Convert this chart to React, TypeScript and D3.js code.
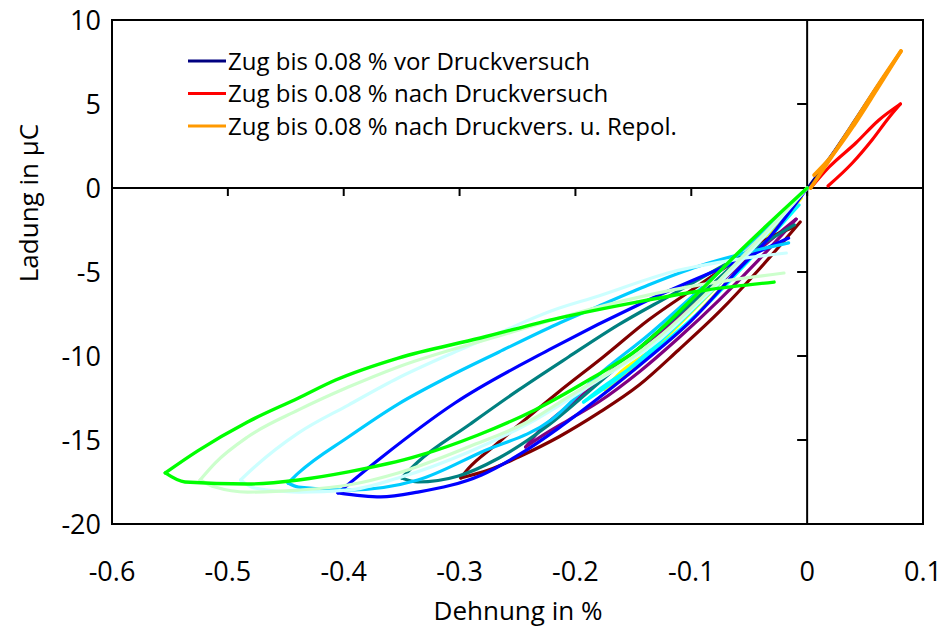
import React from 'react'
import * as d3 from 'd3'

// Dehnung (%) / Ladung (µC) pairs
const zugVor = [[0, 0], [0.02, 1.9], [0.04, 3.95], [0.06, 6.05], [0.081, 8.15], [0.06, 5.95], [0.04, 3.85], [0.02, 1.85], [0.004, 0.3]]
const zugNach = [[0.003, 0], [0.019, 1.25], [0.042, 2.68], [0.062, 4.05], [0.0805, 5.0], [0.071, 4.23], [0.056, 2.86], [0.039, 1.49], [0.018, 0.12]]
const zugRepol = [[0.003, 0], [0.02, 1.75], [0.04, 3.85], [0.06, 6.0], [0.081, 8.15], [0.06, 5.85], [0.04, 3.7], [0.02, 1.8], [0.006, 0.77]]

const druckGelb = [[0, 0], [-0.05, -3.8], [-0.1, -7.4], [-0.15, -10.7], [-0.175, -12.0], [-0.16, -10.9], [-0.143, -10.06], [-0.119, -9.05], [-0.076, -6.1], [-0.03, -2.6], [-0.005, -0.6]]
const druckCyan = [[0, 0], [-0.042, -3.27], [-0.093, -6.85], [-0.137, -9.76], [-0.171, -11.73], [-0.193, -12.74], [-0.18, -12.02], [-0.145, -10.36], [-0.093, -7.38], [-0.05, -4.29], [-0.007, -1.01]]
const druckLila = [[-0.0095, -1.85], [-0.042, -4.29], [-0.076, -6.67], [-0.111, -8.93], [-0.145, -10.95], [-0.18, -12.74], [-0.206, -13.81], [-0.2275, -14.7], [-0.243, -15.42], [-0.232, -14.52], [-0.197, -12.5], [-0.163, -10.54], [-0.119, -8.15], [-0.076, -5.65], [-0.042, -3.69], [-0.0095, -1.85]]
const druckBraun = [[-0.006, -2.02], [-0.042, -4.88], [-0.076, -7.38], [-0.111, -9.64], [-0.145, -11.73], [-0.18, -13.39], [-0.2145, -14.82], [-0.249, -16.01], [-0.275, -16.79], [-0.299, -17.26], [-0.292, -16.67], [-0.269, -15.3], [-0.249, -14.11], [-0.2145, -12.14], [-0.176, -10.06], [-0.137, -7.86], [-0.093, -5.77], [-0.059, -4.17], [-0.033, -2.98], [-0.011, -2.32]]
const druckPetrol = [[0, 0], [-0.042, -3.1], [-0.093, -6.43], [-0.137, -9.05], [-0.18, -11.61], [-0.223, -14.11], [-0.266, -16.07], [-0.301, -17.14], [-0.336, -17.5], [-0.35, -17.26], [-0.336, -16.31], [-0.292, -14.11], [-0.249, -12.02], [-0.206, -10.06], [-0.163, -8.15], [-0.119, -6.43], [-0.076, -4.76], [-0.042, -3.45], [-0.011, -2.2]]
const druckBlau = [[0, 0], [-0.033, -2.98], [-0.058, -4.76], [-0.0995, -7.86], [-0.137, -10.12], [-0.18, -12.5], [-0.2145, -14.29], [-0.249, -15.89], [-0.281, -17.08], [-0.336, -18.1], [-0.368, -18.39], [-0.405, -18.15], [-0.368, -16.07], [-0.304, -12.8], [-0.223, -9.64], [-0.137, -6.67], [-0.05, -4.05], [-0.016, -2.98]]
const druckHimmel = [[0, 0], [-0.042, -2.8], [-0.093, -6.07], [-0.137, -8.75], [-0.18, -11.13], [-0.221, -13.81], [-0.281, -15.71], [-0.336, -17.38], [-0.396, -17.98], [-0.439, -17.8], [-0.448, -17.56], [-0.439, -16.96], [-0.396, -14.82], [-0.353, -12.86], [-0.31, -11.25], [-0.266, -9.76], [-0.223, -8.33], [-0.18, -7.03], [-0.137, -5.77], [-0.093, -4.64], [-0.05, -3.81], [-0.016, -3.27]]
const druckHellcyan = [[0, 0], [-0.0545, -4.17], [-0.093, -6.79], [-0.128, -9.05], [-0.18, -11.43], [-0.235, -13.81], [-0.292, -15.71], [-0.353, -17.26], [-0.396, -17.98], [-0.439, -18.1], [-0.477, -17.86], [-0.489, -17.38], [-0.477, -16.61], [-0.439, -14.58], [-0.396, -12.92], [-0.353, -11.31], [-0.31, -9.94], [-0.266, -8.63], [-0.221, -7.32], [-0.18, -6.43], [-0.117, -5.0], [-0.059, -4.23], [-0.018, -3.87]]
const druckHellgruen = [[0, 0], [-0.0545, -3.99], [-0.093, -6.67], [-0.128, -8.87], [-0.2145, -12.8], [-0.235, -13.69], [-0.292, -15.4], [-0.353, -16.96], [-0.396, -17.68], [-0.439, -17.98], [-0.483, -18.1], [-0.511, -17.8], [-0.524, -17.38], [-0.511, -16.37], [-0.483, -14.82], [-0.439, -13.21], [-0.396, -11.85], [-0.353, -10.65], [-0.266, -8.81], [-0.18, -7.08], [-0.093, -5.77], [-0.02, -5.06]]
const druckGruen = [[0, 0], [-0.058, -3.75], [-0.102, -6.79], [-0.147, -9.64], [-0.1886, -11.43], [-0.235, -13.21], [-0.284, -14.7], [-0.336, -15.95], [-0.396, -16.9], [-0.439, -17.38], [-0.483, -17.62], [-0.537, -17.5], [-0.554, -16.96], [-0.526, -15.65], [-0.483, -13.93], [-0.439, -12.5], [-0.407, -11.43], [-0.353, -10.12], [-0.282, -8.93], [-0.2145, -7.74], [-0.147, -6.79], [-0.087, -6.07], [-0.0285, -5.6]]

const xTicks = [-0.6, -0.5, -0.4, -0.3, -0.2, -0.1, 0, 0.1]
const yTicks = [10, 5, 0, -5, -10, -15, -20]
const legendLabels = [
  'Zug bis 0.08 % vor Druckversuch',
  'Zug bis 0.08 % nach Druckversuch',
  'Zug bis 0.08 % nach Druckvers. u. Repol.',
]

const series = [
  { data: zugVor, color: '#000080', w: 2 },
  { data: zugNach, color: '#FF0000', w: 3.2 },
  { data: zugRepol, color: '#FF9900', w: 3.8 },
  { data: druckGelb, color: '#FFFF00', w: 3.2 },
  { data: druckCyan, color: '#00FFFF', w: 3.2 },
  { data: druckLila, color: '#800080', w: 3.2 },
  { data: druckBraun, color: '#800000', w: 3.2 },
  { data: druckPetrol, color: '#008080', w: 3.2 },
  { data: druckBlau, color: '#0000FF', w: 3.2 },
  { data: druckHimmel, color: '#00CCFF', w: 3.2 },
  { data: druckHellcyan, color: '#CCFFFF', w: 3.2 },
  { data: druckHellgruen, color: '#CCFFCC', w: 3.2 },
  { data: druckGruen, color: '#00FF00', w: 3.4 },
]

// a loop = loading branch up to the turning point + unloading branch back
function branches(data: number[][]) {
  let turn = 0
  data.forEach((d, i) => { if (Math.abs(d[0]) > Math.abs(data[turn][0])) turn = i })
  const sortX = (a: number[], b: number[]) => a[0] - b[0]
  return [data.slice(0, turn + 1).sort(sortX), data.slice(turn).sort(sortX)]
}

export default function App() {
  const width = 949
  const height = 628
  const x = d3.scaleLinear().domain([-0.6, 0.1]).range([112, 923])
  const y = d3.scaleLinear().domain([-20, 10]).range([524, 20])
  const line = d3.line<number[]>()
    .x(d => x(d[0]))
    .y(d => y(d[1]))
    .curve(d3.curveMonotoneX)

  const font = "'Open Sans', 'DejaVu Sans', sans-serif"

  return (
    <svg width={width} height={height} style={{ position: 'absolute', left: 0, top: 0, background: '#fff' }} fontFamily={font}>
      <rect x={x(-0.6)} y={y(10)} width={x(0.1) - x(-0.6)} height={y(-20) - y(10)} fill="none" stroke="#000" strokeWidth={2} />
      <line x1={x(-0.6)} x2={x(0.1)} y1={y(0)} y2={y(0)} stroke="#000" strokeWidth={2} />
      <line x1={x(0)} x2={x(0)} y1={y(10)} y2={y(-20)} stroke="#000" strokeWidth={2} />

      {xTicks.map(t => (
        <g key={'x' + t}>
          <line x1={x(t)} x2={x(t)} y1={y(0)} y2={y(0) + 8} stroke="#000" strokeWidth={2} />
          <text x={x(t)} y={581} textAnchor="middle" fontSize={27} fill="#000">{t}</text>
        </g>
      ))}
      {yTicks.map(t => (
        <g key={'y' + t}>
          <line x1={x(0) - 10} x2={x(0)} y1={y(t)} y2={y(t)} stroke="#000" strokeWidth={2} />
          <text x={101} y={y(t)} dy="0.36em" textAnchor="end" fontSize={27} fill="#000">{t}</text>
        </g>
      ))}

      <text x={518} y={620} textAnchor="middle" fontSize={26} fill="#000">Dehnung in %</text>
      <text transform="translate(38,203) rotate(-90)" textAnchor="middle" fontSize={26} fill="#000">Ladung in µC</text>

      {series.map((s, i) => (
        <g key={i}>
          {branches(s.data).map((b, j) => (
            <path key={j} d={line(b) || ''} fill="none" stroke={s.color} strokeWidth={s.w} strokeLinejoin="round" strokeLinecap="round" />
          ))}
        </g>
      ))}

      {legendLabels.map((label, i) => (
        <g key={label}>
          <line x1={188} x2={226} y1={61 + i * 32.5} y2={61 + i * 32.5} stroke={series[i].color} strokeWidth={3} />
          <text x={228} y={61 + i * 32.5} dy="0.36em" fontSize={24} fill="#000">{label}</text>
        </g>
      ))}
    </svg>
  )
}
